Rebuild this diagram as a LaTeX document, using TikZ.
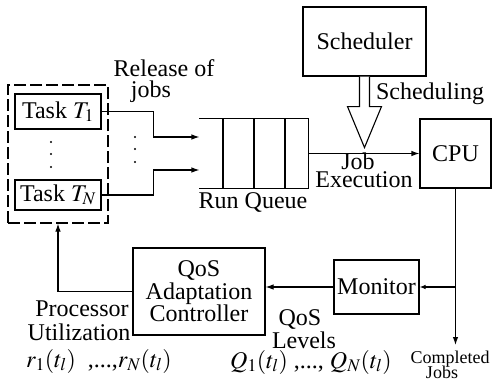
\documentclass[tikz,border=0pt]{standalone}
\usepackage{mathptmx}
\usepackage{fontspec}
\setmainfont{Liberation Serif}
\usetikzlibrary{arrows.meta}
\begin{document}
\begin{tikzpicture}[x=1pt,y=-1pt, line width=1.1pt,
  box/.style={draw, rectangle, inner sep=0pt, align=center, font=\fontsize{24}{22.5}\selectfont},
  lbl/.style={inner sep=0pt, anchor=base, font=\fontsize{24}{23}\selectfont},
  small/.style={inner sep=0pt, anchor=base, font=\fontsize{18}{14}\selectfont},
  arr/.style={-{Latex[length=8pt,width=5.5pt]}},
  dot/.style={fill=black}]
\useasboundingbox (0,0) rectangle (493,383);

% tasks
\node[box, minimum width=100pt, minimum height=138pt, dash pattern=on 12pt off 4pt] (group) at (58,154) {};
\node[box, minimum width=86pt, minimum height=35pt] (t1) at (58,111.5) {Task $T_1$};
\node[box, minimum width=86pt, minimum height=30pt] (tn) at (58,195) {Task $T_N$};
\fill[dot] (51,142) circle (1.2pt) (51,154) circle (1.2pt) (51,167) circle (1.2pt);
\fill[dot] (135,137) circle (1.2pt) (135,149) circle (1.2pt) (135,162) circle (1.2pt);

% run queue
\node[inner sep=0pt, minimum width=108pt, minimum height=69pt] (queue) at (254,153.5) {};
\draw (queue.north west) -- (queue.north east) -- (queue.south east) -- (queue.south west);
\draw (223,119) -- (223,188) (254,119) -- (254,188) (285,119) -- (285,188);
\node[lbl] (rq) at (253,208) {Run Queue};

\draw[arr] (t1.east) -- ++(52,0) |- ([yshift=16.5pt]queue.west);
\draw[arr] (tn.east) -- ++(52,0) |- ([yshift=-16.5pt]queue.west);
\node[lbl] (rel) at (164,76) {Release of};
\node[lbl] (jobs) at (151,97) {jobs};

% scheduler
\node[box, minimum width=123pt, minimum height=69pt] (sched) at (364.5,41.5) {Scheduler};
\draw[fill=white, line join=miter] ([xshift=-5pt]sched.south) -- ++(0,30) -- ++(-12,0) -- ++(17,41) -- ++(17,-41) -- ++(-12,0) -- ++(0,-30);
\node[lbl] (schl) at (430,99) {Scheduling};

% cpu
\node[box, minimum width=71pt, minimum height=69pt] (cpu) at (455.5,153.5) {CPU};
\draw[arr] (queue.east) -- (cpu.west);
\node[lbl] (job) at (358,169) {Job};
\node[lbl] (exe) at (364,187) {Execution};

% monitor and controller
\coordinate (done) at (455.5,345);
\draw[arr] (cpu.south) -- (done);
\node[box, minimum width=85pt, minimum height=54pt] (mon) at (376.5,287) {Monitor};
\draw[-{Latex[length=6pt,width=4.5pt]}] (cpu.south |- mon.east) -- (mon.east);
\node[box, minimum width=132pt, minimum height=87pt] (ctrl) at (199,291.5) {QoS\\Adaptation\\Controller};
\draw[arr] (mon.west) -- (mon.west -| ctrl.east);
\draw[arr] (ctrl.west) -| (group.south);

% labels
\node[lbl] (proc) at (82,316) {Processor};
\node[lbl] (util) at (79,340) {Utilization};
\node[lbl] (rvals) at (99,367) {$r_1(t_l)$\ \ ,...,$r_N(t_l)$};
\node[lbl] (qos) at (300,325) {QoS};
\node[lbl] (lev) at (304,348) {Levels};
\node[lbl] (qvals) at (311,368) {$Q_1(t_l)$ ,..., $Q_N(t_l)$};
\node[small] (comp) at (450,363) {Completed};
\node[small] (cjobs) at (442,378) {Jobs};
\end{tikzpicture}
\end{document}
